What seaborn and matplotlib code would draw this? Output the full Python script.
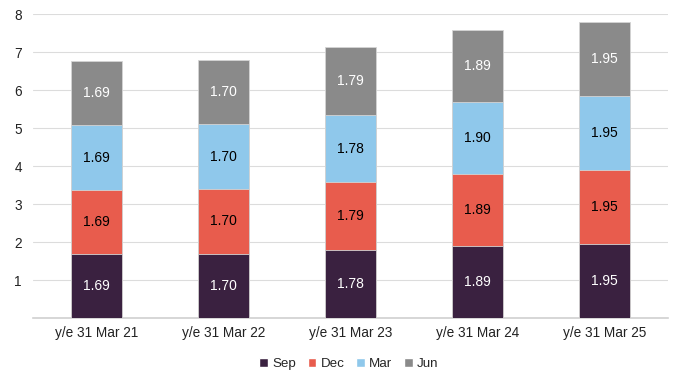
import numpy as np
import pandas as pd
import seaborn as sns
from matplotlib import pyplot as plt
from matplotlib.patches import Patch

years = ["y/e 31 Mar 21", "y/e 31 Mar 22", "y/e 31 Mar 23", "y/e 31 Mar 24", "y/e 31 Mar 25"]
sep = [1.69, 1.70, 1.78, 1.89, 1.95]
dec = [1.69, 1.70, 1.79, 1.89, 1.95]
mar = [1.69, 1.70, 1.78, 1.90, 1.95]
jun = [1.69, 1.70, 1.79, 1.89, 1.95]

series = ["Sep", "Dec", "Mar", "Jun"]
colors = {"Sep": "#3a2140", "Dec": "#e85c4d", "Mar": "#8fc8eb", "Jun": "#8a8a8a"}
text_colors = {"Sep": "white", "Dec": "black", "Mar": "black", "Jun": "white"}

df = pd.DataFrame({"year": years, "Sep": sep, "Dec": dec, "Mar": mar, "Jun": jun})
cum = df[series].cumsum(axis=1)

sns.set_style("white")
plt.rcParams["font.family"] = ["Liberation Sans", "DejaVu Sans"]

fig = plt.figure(figsize=(6.8, 3.81), dpi=100)
ax = fig.add_axes([0.0485, 0.165, 0.9335, 0.798])

# draw cumulative totals from the top down so each layer covers the one above
for s in reversed(series):
	sns.barplot(x=df["year"], y=cum[s], color=colors[s], width=0.4, ax=ax,
		edgecolor="#d4d4d4", linewidth=0.6, saturation=1, zorder=3)

for i in range(len(years)):
	for s in series:
		mid = cum.loc[i, s] - df.loc[i, s] / 2
		ax.text(i, mid, f"{df.loc[i, s]:.2f}", ha="center", va="center",
			fontsize=10, color=text_colors[s], zorder=4)

ax.set_xlim(-0.5, 4.5)
ax.set_ylim(0, 8)
ax.set_yticks(range(1, 9))
ax.yaxis.grid(True, color="#dcdcdc", linewidth=0.8, zorder=0)
ax.set_axisbelow(True)
for sp in ["left", "right", "top"]:
	ax.spines[sp].set_visible(False)
ax.spines["bottom"].set_color("#d0d0d0")
ax.spines["bottom"].set_linewidth(1.2)
ax.tick_params(axis="both", length=0, labelsize=9.8, colors="#222222")
ax.tick_params(axis="x", pad=6)
ax.tick_params(axis="y", pad=8)
ax.set_xlabel("")
ax.set_ylabel("")

handles = [Patch(facecolor=colors[s], label=s) for s in series]
fig.legend(handles=handles, loc="center", bbox_to_anchor=(0.513, 0.045), ncol=4,
	frameon=False, fontsize=9.6, handlelength=0.65, handleheight=0.65,
	handletextpad=0.3, columnspacing=0.9)

fig.savefig("out.png", dpi=100)
